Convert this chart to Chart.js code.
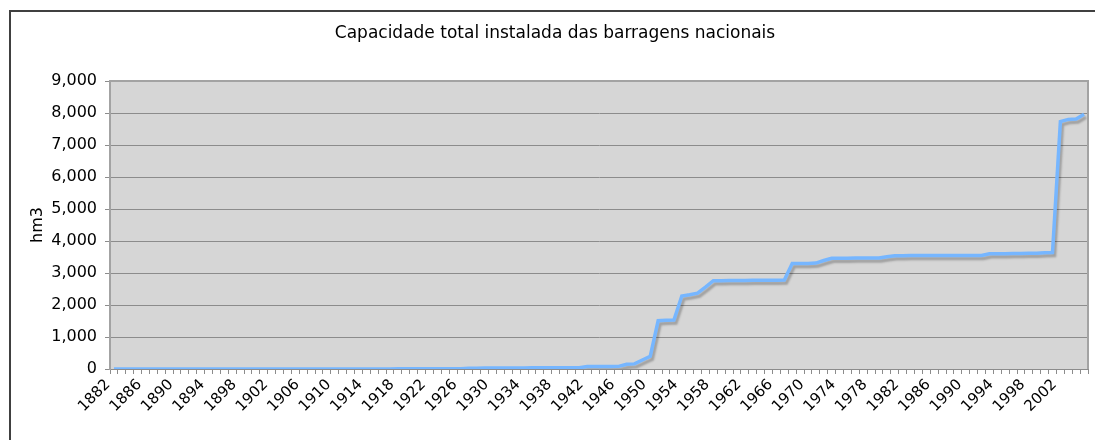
<!DOCTYPE html>
<html>
<head>
<meta charset="utf-8">
<script src="https://cdn.jsdelivr.net/npm/chart.js@4/dist/chart.umd.min.js"></script>
<style>
  html, body { margin: 0; padding: 0; background: #fff; }
  #wrap { width: 1095px; height: 440px; position: relative; }
</style>
</head>
<body>
<div id="wrap"><canvas id="chart"></canvas></div>
<script>
// categories: one per year, 1882 to 2005
const firstYear = 1882;
const lastYear = 2005;
const years = [];
for (let y = firstYear; y <= lastYear; y++) years.push(String(y));

// total installed capacity (hm3)
const capacity = [
  0, 0, 0, 0, 0, 0, 0, 0, 0, 0,
  0, 0, 0, 0, 0, 0, 0, 0, 1, 1,
  1, 1, 1, 1, 2, 2, 2, 2, 2, 2,
  3, 3, 3, 3, 3, 3, 4, 4, 4, 4,
  5, 5, 5, 5, 6,
  25, 25, 28, 30, 30, 32, 35, 35, 36, 38,
  38, 40, 40, 40, 42,
  75, 78, 80, 80, 82,
  150, 160, 280, 400, 1510,
  1520, 1530, 2280, 2320, 2370,
  2560, 2760, 2760, 2765, 2765,
  2765, 2770, 2770, 2775, 2775,
  2780, 3300, 3300, 3300, 3310,
  3390, 3460, 3460, 3460, 3465,
  3465, 3465, 3470, 3510, 3540,
  3540, 3545, 3545, 3545, 3550,
  3550, 3550, 3550, 3550, 3550,
  3550, 3600, 3600, 3605, 3610,
  3610, 3615, 3620, 3630, 3640,
  7730, 7800, 7810, 7960
];

const yTicks = [0, 1000, 2000, 3000, 4000, 5000, 6000, 7000, 8000, 9000];

const chartTitle = "Capacidade total instalada das barragens nacionais";
const yTitle = "hm3";

const FONT = "'DejaVu Sans', Verdana, sans-serif";

// grey plot background, plot frame, titles and the outer chart border
const framePlugin = {
  id: "frame",
  beforeDraw(chart) {
    const { ctx, chartArea: a } = chart;
    ctx.save();
    ctx.fillStyle = "#d6d6d6";
    ctx.fillRect(a.left, a.top, a.right - a.left, a.bottom - a.top);
    ctx.restore();
  },
  afterDatasetsDraw(chart) {
    const { ctx, chartArea: a } = chart;
    ctx.save();
    ctx.strokeStyle = "#a3a3a3";
    ctx.lineWidth = 2;
    ctx.beginPath();
    ctx.moveTo(a.left, a.bottom);
    ctx.lineTo(a.left, a.top);
    ctx.lineTo(a.right, a.top);
    ctx.lineTo(a.right, a.bottom);
    ctx.stroke();
    ctx.restore();
  },
  afterDraw(chart) {
    const { ctx, chartArea: a } = chart;
    ctx.save();
    ctx.strokeStyle = "#404040";
    ctx.lineWidth = 2;
    ctx.strokeRect(10, 11, 1100, 460);
    ctx.fillStyle = "#000";
    ctx.textAlign = "center";
    ctx.textBaseline = "middle";
    // title sits a little right of centre in the original
    ctx.font = "17px " + FONT;
    ctx.fillText(chartTitle, 555, 34);
    // y axis title, left of the tick labels
    ctx.font = "16px " + FONT;
    ctx.translate(38, (a.top + a.bottom) / 2);
    ctx.rotate(-Math.PI / 2);
    ctx.fillText(yTitle, 0, 0);
    ctx.restore();
  }
};

// soft grey shadow under the line, like the spreadsheet original
const shadowPlugin = {
  id: "lineShadow",
  beforeDatasetDraw(chart) {
    const ctx = chart.ctx;
    ctx.save();
    ctx.shadowColor = "rgba(0, 0, 0, 0.25)";
    ctx.shadowBlur = 2;
    ctx.shadowOffsetX = 2;
    ctx.shadowOffsetY = 3;
  },
  afterDatasetDraw(chart) {
    chart.ctx.restore();
  }
};

const ctx = document.getElementById("chart").getContext("2d");
new Chart(ctx, {
  type: "line",
  data: {
    labels: years,
    datasets: [
      {
        label: "Capacidade",
        data: capacity,
        borderColor: "#76b6ff",
        borderWidth: 3.5,
        pointRadius: 0,
        tension: 0,
        fill: false,
      },
    ],
  },
  options: {
    responsive: true,
    maintainAspectRatio: false,
    animation: false,
    layout: {
      padding: { left: 0, right: 7, top: 81, bottom: 0 },
    },
    plugins: {
      legend: { display: false },
      tooltip: { enabled: false },
      title: { display: false },
    },
    scales: {
      x: {
        type: "category",
        offset: true,
        afterFit(scale) {
          scale.height = 71;
          scale.paddingRight = 0;
        },
        grid: {
          drawOnChartArea: false,
          drawTicks: true,
          tickLength: 5,
          tickColor: "#8c8c8c",
          offset: true,
        },
        border: { display: true, color: "#8c8c8c", width: 1 },
        ticks: {
          autoSkip: false,
          maxRotation: 45,
          minRotation: 45,
          padding: 2,
          labelOffset: -6,
          color: "#000",
          font: { family: FONT, size: 15 },
          callback: function (value, index) {
            return index % 4 === 0 ? this.getLabelForValue(value) : "";
          },
        },
      },
      y: {
        min: 0,
        max: 9000,
        afterFit(scale) {
          scale.width = 110;
        },
        afterBuildTicks(scale) {
          scale.ticks = yTicks.map((v) => ({ value: v }));
        },
        grid: {
          color: "#8c8c8c",
          lineWidth: 1,
          tickLength: 5,
          tickColor: "#8c8c8c",
        },
        border: { display: true, color: "#a3a3a3", width: 2 },
        ticks: {
          color: "#000",
          padding: 8,
          font: { family: FONT, size: 16 },
          callback: (v) => v.toLocaleString("en-US"),
        },
      },
    },
  },
  plugins: [framePlugin, shadowPlugin],
});
</script>
</body>
</html>
